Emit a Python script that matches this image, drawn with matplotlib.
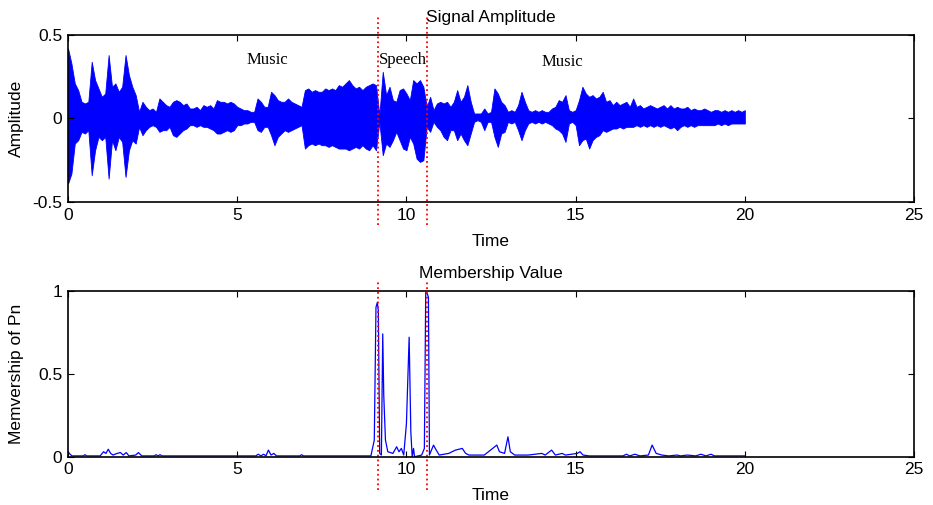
import matplotlib
matplotlib.use('Agg')
import matplotlib.pyplot as plt
import numpy as np

plt.rcParams['font.family'] = ['Liberation Sans', 'DejaVu Sans']
plt.rcParams['font.size'] = 12.5

# signal amplitude envelope, read every 0.1 s from the picture
env_hi = [0.42, 0.33, 0.21, 0.17, 0.10, 0.09, 0.10, 0.34, 0.23, 0.18,
          0.13, 0.15, 0.38, 0.19, 0.21, 0.16, 0.19, 0.38, 0.26, 0.19,
          0.14, 0.04, 0.10, 0.07, 0.05, 0.06, 0.04, 0.12, 0.10, 0.08,
          0.07, 0.10, 0.11, 0.10, 0.08, 0.09, 0.06, 0.06, 0.07, 0.05,
          0.08, 0.07, 0.08, 0.06, 0.11, 0.10, 0.10, 0.09, 0.10, 0.09,
          0.07, 0.06, 0.05, 0.05, 0.04, 0.04, 0.12, 0.10, 0.07, 0.07,
          0.16, 0.14, 0.11, 0.10, 0.10, 0.12, 0.10, 0.09, 0.08, 0.07,
          0.17, 0.18, 0.16, 0.17, 0.16, 0.16, 0.18, 0.17, 0.18, 0.17,
          0.20, 0.19, 0.21, 0.23, 0.20, 0.18, 0.19, 0.17, 0.19, 0.20,
          0.21, 0.20, 0.02, 0.28, 0.14, 0.19, 0.11, 0.10, 0.17, 0.18,
          0.15, 0.11, 0.23, 0.21, 0.23, 0.19, 0.07, 0.13, 0.05, 0.09,
          0.10, 0.09, 0.10, 0.07, 0.10, 0.17, 0.10, 0.13, 0.20, 0.10,
          0.03, 0.03, 0.03, 0.06, 0.03, 0.04, 0.18, 0.15, 0.10, 0.08,
          0.04, 0.05, 0.04, 0.08, 0.16, 0.10, 0.05, 0.04, 0.05, 0.04,
          0.05, 0.04, 0.04, 0.06, 0.07, 0.11, 0.10, 0.14, 0.05, 0.04,
          0.05, 0.11, 0.19, 0.15, 0.13, 0.14, 0.12, 0.13, 0.16, 0.10,
          0.11, 0.08, 0.10, 0.08, 0.09, 0.10, 0.07, 0.12, 0.07, 0.08,
          0.06, 0.07, 0.08, 0.07, 0.06, 0.07, 0.08, 0.06, 0.08, 0.06,
          0.07, 0.06, 0.06, 0.07, 0.05, 0.06, 0.05, 0.05, 0.06, 0.05,
          0.04, 0.05, 0.05, 0.04, 0.05, 0.04, 0.05, 0.04, 0.05, 0.04, 0.05]
env_lo = [-0.39, -0.33, -0.15, -0.13, -0.08, -0.09, -0.07, -0.34, -0.19, -0.11,
          -0.13, -0.11, -0.36, -0.13, -0.19, -0.11, -0.14, -0.35, -0.19, -0.13,
          -0.15, -0.05, -0.10, -0.07, -0.05, -0.04, -0.05, -0.08, -0.07, -0.07,
          -0.05, -0.10, -0.11, -0.09, -0.07, -0.06, -0.04, -0.04, -0.05, -0.04,
          -0.05, -0.05, -0.06, -0.07, -0.09, -0.09, -0.08, -0.07, -0.08, -0.07,
          -0.04, -0.04, -0.03, -0.03, -0.02, -0.02, -0.07, -0.08, -0.05, -0.05,
          -0.10, -0.16, -0.11, -0.09, -0.07, -0.08, -0.07, -0.06, -0.05, -0.04,
          -0.18, -0.16, -0.15, -0.16, -0.15, -0.16, -0.16, -0.17, -0.16, -0.17,
          -0.18, -0.18, -0.18, -0.19, -0.18, -0.17, -0.18, -0.16, -0.18, -0.19,
          -0.16, -0.19, -0.02, -0.22, -0.15, -0.17, -0.13, -0.08, -0.13, -0.18,
          -0.19, -0.11, -0.15, -0.24, -0.26, -0.25, -0.05, -0.08, -0.02, -0.05,
          -0.07, -0.11, -0.13, -0.07, -0.07, -0.13, -0.09, -0.13, -0.16, -0.09,
          -0.02, -0.01, -0.02, -0.07, -0.02, -0.02, -0.11, -0.17, -0.09, -0.08,
          -0.02, -0.03, -0.02, -0.07, -0.13, -0.07, -0.03, -0.02, -0.03, -0.02,
          -0.03, -0.02, -0.03, -0.04, -0.06, -0.07, -0.09, -0.14, -0.03, -0.02,
          -0.04, -0.16, -0.13, -0.12, -0.18, -0.13, -0.11, -0.10, -0.07, -0.08,
          -0.07, -0.06, -0.06, -0.05, -0.06, -0.05, -0.05, -0.05, -0.04, -0.05,
          -0.04, -0.05, -0.04, -0.05, -0.04, -0.05, -0.04, -0.05, -0.06, -0.05,
          -0.07, -0.05, -0.04, -0.05, -0.04, -0.05, -0.04, -0.04, -0.04, -0.04,
          -0.04, -0.04, -0.03, -0.04, -0.03, -0.04, -0.03, -0.03, -0.03, -0.03, -0.03]
env_t = np.arange(len(env_hi)) * 0.1

# membership value curve
mem_t = [0.00, 0.06, 0.12, 0.45, 0.50, 0.55, 0.95, 1.05, 1.12, 1.19,
         1.26, 1.33, 1.45, 1.55, 1.63, 1.72, 1.80, 2.00, 2.08, 2.18,
         2.55, 2.60, 2.66, 2.72, 2.78, 5.55, 5.62, 5.70, 5.78, 5.85,
         5.92, 6.00, 6.08, 6.16, 6.85, 6.90, 6.96, 8.95, 9.05, 9.10,
         9.14, 9.17, 9.21, 9.26, 9.30, 9.33, 9.38, 9.45, 9.60, 9.71,
         9.78, 9.85, 9.92, 10.00, 10.08, 10.13, 10.17, 10.21, 10.24, 10.45,
         10.53, 10.57, 10.62, 10.65, 10.68, 10.80, 10.88, 10.97, 11.25, 11.45,
         11.65, 11.75, 11.85, 12.30, 12.67, 12.75, 12.90, 13.00, 13.07, 13.20,
         13.60, 14.00, 14.10, 14.29, 14.40, 14.60, 14.70, 15.05, 15.13, 15.22,
         15.40, 16.40, 16.50, 16.60, 16.75, 16.90, 17.15, 17.26, 17.38, 17.55,
         17.75, 18.00, 18.10, 18.30, 18.55, 18.70, 18.85, 19.00, 19.10, 20.00]
mem_v = [0.03, 0.015, 0.005, 0.005, 0.012, 0.005, 0.005, 0.03, 0.02, 0.045,
         0.02, 0.01, 0.02, 0.025, 0.01, 0.025, 0.005, 0.01, 0.025, 0.005,
         0.005, 0.012, 0.005, 0.012, 0.005, 0.005, 0.015, 0.005, 0.015, 0.005,
         0.04, 0.01, 0.02, 0.005, 0.005, 0.012, 0.005, 0.005, 0.10, 0.90,
         0.93, 0.88, 0.02, 0.01, 0.74, 0.37, 0.10, 0.03, 0.02, 0.06,
         0.03, 0.05, 0.01, 0.20, 0.72, 0.15, 0.0, 0.05, 0.0, 0.01,
         0.05, 0.99, 0.98, 0.96, 0.01, 0.07, 0.04, 0.01, 0.02, 0.04,
         0.05, 0.02, 0.01, 0.01, 0.07, 0.03, 0.02, 0.12, 0.03, 0.01,
         0.01, 0.02, 0.01, 0.04, 0.01, 0.02, 0.01, 0.02, 0.03, 0.01,
         0.005, 0.005, 0.015, 0.005, 0.015, 0.005, 0.01, 0.07, 0.02, 0.01,
         0.005, 0.01, 0.005, 0.01, 0.005, 0.015, 0.005, 0.015, 0.005, 0.005]

# segment boundaries and labels
bounds = [9.15, 10.6]
seg_labels = ['Music', 'Speech', 'Music']
seg_x = [5.9, 9.9, 14.6]
seg_y = [0.35, 0.35, 0.34]


def style(ax):
    ax.set_xlim(0, 25)
    ax.set_xticks([0, 5, 10, 15, 20, 25])
    ax.tick_params(direction='in', top=True, right=True, length=4, width=0.8, pad=4)
    for s in ax.spines.values():
        s.set_linewidth(1.2)


fig = plt.figure(figsize=(9.33, 5.05), dpi=100)
ax1 = fig.add_axes([0.0729, 0.6, 0.9068, 0.3307])
ax2 = fig.add_axes([0.0729, 0.0956, 0.9068, 0.3287])

ax1.fill_between(env_t, env_lo, env_hi, color='#0000ff', lw=0.6)
ax1.set_ylim(-0.5, 0.5)
ax1.set_yticks([-0.5, 0, 0.5])
ax1.set_yticklabels(['-0.5', '0', '0.5'])
style(ax1)
ax1.set_title('Signal Amplitude', fontsize=12.5, pad=9)
ax1.set_xlabel('Time', fontsize=12.5, labelpad=8)
ax1.set_ylabel('Amplitude', fontsize=12.5, labelpad=6)
for lab, x, y in zip(seg_labels, seg_x, seg_y):
    ax1.text(x, y, lab, family='Liberation Serif', fontsize=12, ha='center', va='center')
for b in bounds:
    ax1.plot([b, b], [-0.64, 0.62], color='red', ls=':', lw=1.3, clip_on=False)

ax2.plot(mem_t, mem_v, color='#0000ff', lw=0.9)
ax2.set_ylim(0, 1)
ax2.set_yticks([0, 0.5, 1])
ax2.set_yticklabels(['0', '0.5', '1'])
style(ax2)
ax2.set_title('Membership Value', fontsize=12.5, pad=9)
ax2.set_xlabel('Time', fontsize=12.5, labelpad=8)
ax2.set_ylabel('Memvership of Pn', fontsize=12.5, labelpad=10)
for b in bounds:
    ax2.plot([b, b], [-0.2, 1.06], color='red', ls=':', lw=1.3, clip_on=False)

fig.savefig('out.png', dpi=100)
